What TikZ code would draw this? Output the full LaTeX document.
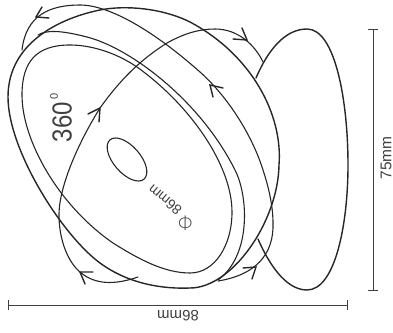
\documentclass[tikz,border=0pt]{standalone}
\usepackage{fontspec}
\setmainfont{Liberation Sans}
\newfontfamily\lightf{DejaVu Sans ExtraLight}
\tikzset{
  x=1pt,y=-1pt,
  thickline/.style={draw=black!85,line width=1.4pt,line cap=round,line join=round},
  thinline/.style={draw=black!85,line width=1.1pt,line cap=round,line join=round},
  barb/.style={draw=black!85,line width=1.4pt,line cap=round,line join=miter},
  dimline/.style={draw=black!75,line width=1pt},
  lab/.style={inner sep=0pt,text=black!75},
}
\begin{document}
\begin{tikzpicture}
\useasboundingbox (0,0) rectangle (393,332);
% back body
\draw[thickline] (256,78) .. controls (268,50) and (285,29) .. (307,29)
  .. controls (335,29) and (348,100) .. (348,165)
  .. controls (348,225) and (335,290) .. (307,290)
  .. controls (285,290) and (268,262) .. (258,239);
% outer rim
\draw[thickline] (8,97) .. controls (8,150) and (62,235) .. (100,263)
  .. controls (130,285) and (165,289) .. (190,288)
  .. controls (232,288) and (278,222) .. (279,165)
  .. controls (283,115) and (252,55) .. (190,22)
  .. controls (162,8) and (125,5) .. (100,10)
  .. controls (65,17) and (8,40) .. (8,97) -- cycle;
% second rim
\draw[thinline] (38,35) .. controls (46,30) and (60,30) .. (87,37)
  .. controls (130,48) and (200,100) .. (235,170)
  .. controls (248,195) and (252,255) .. (218,280);
% inner
\draw[thinline] (22,95) .. controls (22,140) and (58,205) .. (113,243)
  .. controls (140,260) and (165,273) .. (190,273)
  .. controls (215,273) and (232,245) .. (232,212)
  .. controls (232,165) and (190,105) .. (137,67)
  .. controls (115,52) and (90,45) .. (70,45)
  .. controls (36,45) and (22,62) .. (22,95) -- cycle;
% small ellipse
\draw[thinline] (127,159.5) ellipse [x radius=26pt, y radius=13.4pt, rotate=-49];
% rotation 1
\draw[thinline] (22,50) .. controls (26,15) and (50,5) .. (80,5)
  .. controls (110,5) and (155,32) .. (200,72)
  .. controls (228,97) and (252,135) .. (263,170)
  .. controls (268,185) and (273,205) .. (273,223)
  .. controls (274,255) and (255,275) .. (218,281);
% rotation 2
\draw[thinline] (138,277) .. controls (115,285) and (95,285) .. (80,272)
  .. controls (68,262) and (59,240) .. (59,215)
  .. controls (59,185) and (80,140) .. (100,108)
  .. controls (120,80) and (140,60) .. (167,43)
  .. controls (185,33) and (200,29) .. (215,29)
  .. controls (238,29) and (255,45) .. (263,62);
% arrow barbs
\draw[barb] (42,7) -- (36,17) -- (49,18);
\draw[barb] (88,114) -- (100,108) -- (99,122);
\draw[barb] (223,88) -- (210,85) -- (213,97);
\draw[barb] (242,28) -- (247,40) -- (233,39);
\draw[barb] (243,268) -- (256,267) -- (252,279);
\draw[barb] (93,272) -- (80,272) -- (85,284);
% dimensions
\coordinate (bl) at (8,305); \coordinate (br) at (347,305);
\coordinate (rt) at (373,29); \coordinate (rb) at (373,290);
\draw[dimline] (bl) -- (br);
\draw[dimline] (8,300) -- (8,310);
\draw[dimline] (347,300) -- (347,310);
\draw[dimline] (rt) -- (rb);
\draw[dimline] (368,29) -- (378,29);
\draw[dimline] (368,290) -- (378,290);
% texts
\node[lab,rotate=180,font=\fontsize{15}{15}\selectfont] (w) at (178,315.5) {86mm};
\node[lab,rotate=90,font=\fontsize{15.5}{15.5}\selectfont] (h) at (386,158) {75mm};
\node[lab,rotate=90,yscale=1.15,font=\fontsize{24}{24}\selectfont] (a) at (62,122) {360};
\node[lab,rotate=90,font=\fontsize{11}{11}\selectfont] (deg) at (54,96) {0};
\node[lab,rotate=140,font=\fontsize{14}{14}\selectfont] (d) at (165,200) {86mm};
\node[lab,font=\lightf\fontsize{20}{20}\selectfont,text=black!70] (phi) at (186,223) {\symbol{"03A6}};
\end{tikzpicture}
\end{document}
